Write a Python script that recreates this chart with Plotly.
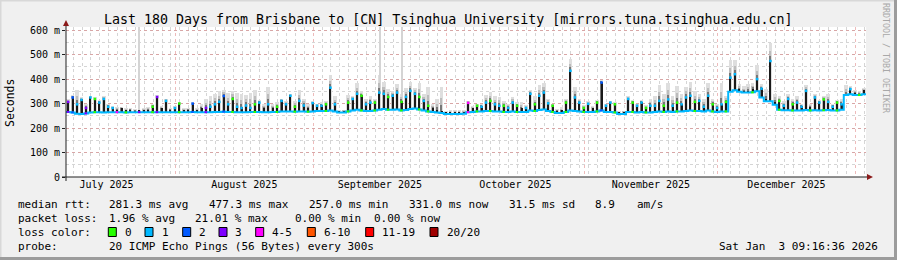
import pandas as pd
import plotly.graph_objects as go

# ---------------- data ----------------
start = pd.Timestamp("2025-07-07 09:16:36")
end = pd.Timestamp("2026-01-03 09:16:36")
day_centres = pd.date_range("2025-07-07 21:16:36", periods=180, freq="D")
day_starts = pd.date_range("2025-07-07 09:16:36", periods=180, freq="D")

median_base = [
    266, 264, 259, 258, 260, 264, 265, 265, 264, 265,
    265, 265, 265, 264, 265, 265, 265, 265, 265, 265,
    265, 265, 265, 265, 265, 265, 265, 265, 266, 265,
    265, 265, 265, 266, 266, 267, 266, 266, 265, 265,
    265, 266, 266, 266, 265, 265, 266, 266, 268, 268,
    268, 267, 268, 268, 267, 268, 270, 270, 270, 272,
    268, 264, 264, 268, 272, 275, 272, 270, 270, 272,
    275, 278, 275, 275, 276, 272, 274, 278, 280, 276,
    272, 268, 266, 264, 262, 258, 258, 258, 258, 259,
    265, 266, 268, 268, 270, 270, 268, 268, 266, 266,
    268, 266, 266, 266, 272, 270, 274, 276, 270, 266,
    262, 262, 266, 272, 270, 268, 266, 266, 266, 268,
    272, 266, 266, 264, 258, 258, 266, 266, 264, 266,
    264, 264, 266, 268, 266, 268, 266, 268, 268, 270,
    272, 270, 270, 268, 272, 268, 266, 268, 268, 348,
    355, 348, 345, 345, 346, 350, 325, 310, 310, 295,
    275, 273, 273, 272, 272, 272, 274, 272, 273, 272,
    273, 274, 272, 272, 275, 335, 338, 335, 335, 338,
]

spike_peak = [
    310, 328, 300, 318, 285, 328, 322, 307, 322, 290,
    285, 275, 281, 272, 275, 270, 275, 272, 275, 290,
    330, 280, 314, 275, 285, 303, 272, 275, 303, 272,
    280, 285, 290, 300, 310, 334, 300, 322, 290, 285,
    295, 285, 300, 307, 280, 300, 280, 290, 314, 300,
    335, 290, 314, 295, 280, 305, 294, 294, 300, 368,
    300, 268, 270, 307, 322, 343, 335, 300, 307, 307,
    348, 343, 330, 335, 348, 310, 330, 355, 343, 330,
    314, 294, 282, 275, 270, 262, 262, 262, 262, 264,
    306, 280, 294, 290, 307, 314, 300, 294, 294, 285,
    307, 294, 280, 285, 343, 300, 335, 348, 304, 294,
    270, 272, 307, 437, 328, 307, 285, 302, 280, 307,
    389, 294, 307, 300, 262, 265, 322, 307, 294, 307,
    285, 294, 294, 314, 294, 320, 294, 307, 300, 328,
    335, 310, 314, 290, 335, 300, 285, 300, 310, 409,
    423, 360, 350, 352, 360, 403, 364, 320, 477, 307,
    314, 294, 322, 300, 307, 290, 355, 287, 328, 307,
    320, 310, 290, 307, 300, 340, 362, 345, 340, 355,
]

smoke_max = [
    318, 335, 355, 325, 300, 332, 326, 315, 330, 300,
    290, 285, 288, 280, 282, 278, 275, 280, 285, 300,
    335, 290, 320, 282, 290, 308, 280, 282, 305, 280,
    300, 320, 330, 340, 350, 355, 345, 350, 345, 340,
    335, 345, 355, 315, 300, 368, 300, 305, 320, 310,
    340, 310, 355, 320, 300, 310, 300, 305, 310, 416,
    330, 272, 275, 335, 330, 384, 350, 320, 330, 320,
    416, 389, 360, 350, 380, 340, 363, 389, 365, 384,
    340, 368, 300, 320, 368, 268, 275, 275, 275, 275,
    312, 290, 300, 300, 335, 348, 330, 328, 310, 300,
    328, 305, 307, 295, 355, 330, 375, 384, 320, 300,
    278, 285, 320, 484, 368, 320, 295, 310, 290, 315,
    395, 300, 312, 305, 268, 270, 330, 315, 300, 315,
    295, 320, 330, 375, 340, 384, 330, 370, 340, 368,
    389, 350, 340, 320, 384, 320, 300, 384, 330, 477,
    477, 380, 370, 380, 385, 457, 380, 360, 546, 340,
    330, 310, 340, 320, 330, 300, 375, 300, 340, 315,
    330, 340, 300, 315, 320, 375, 370, 355, 350, 365,
]

loss_class = [
    3, 2, 1, 1, 3, 1, 0, 1, 1, 1,
    1, 4, 1, 0, 1, 1, 3, 1, 1, 0,
    3, 1, 1, 1, 1, 0, 1, 1, 2, 1,
    1, 3, 1, 1, 1, 2, 1, 0, 1, 1,
    1, 1, 0, 1, 1, 1, 1, 0, 1, 1,
    1, 0, 1, 1, 0, 1, 1, 1, 0, 1,
    1, 1, 1, 0, 1, 1, 0, 1, 1, 0,
    1, 1, 0, 1, 1, 0, 1, 1, 1, 0,
    1, 0, 1, 1, 1, 1, 1, 1, 1, 1,
    4, 1, 0, 1, 1, 0, 1, 1, 0, 1,
    1, 0, 1, 1, 1, 0, 1, 1, 1, 0,
    1, 1, 0, 1, 1, 1, 0, 1, 1, 0,
    2, 1, 1, 0, 1, 1, 1, 0, 1, 1,
    0, 1, 1, 1, 0, 1, 1, 0, 1, 1,
    1, 0, 1, 1, 1, 0, 1, 1, 0, 1,
    1, 1, 1, 1, 0, 1, 1, 1, 1, 1,
    0, 1, 1, 0, 1, 1, 1, 0, 1, 1,
    0, 1, 1, 0, 1, 1, 1, 1, 0, 1,
]

outlier_dates = ["2025-07-23 21:00", "2025-09-16 01:00", "2025-09-21 01:00"]
outlier_base = [266, 275, 272]
outlier_max = [650, 650, 650]

loss_colors = ["#26ff00", "#00b8ff", "#0059ff", "#7e00ff", "#ff00ff", "#ff5500", "#ff0000", "#a00000"]
loss_labels = ["0", "1", "2", "3", "4-5", "6-10", "11-19", "20/20"]

y_ticks = [0, 100, 200, 300, 400, 500, 600]
y_ticktext = ["0", "100 m", "200 m", "300 m", "400 m", "500 m", "600 m"]

title_text = "Last 180 Days from Brisbane to [CN] Tsinghua University [mirrors.tuna.tsinghua.edu.cn]"
legend_rows = [
    [("median rtt:", 16), ("281.3 ms avg", 107.3), ("477.3 ms max", 207.3), ("257.0 ms min", 307.3),
     ("331.0 ms now", 407.3), ("31.5 ms sd", 507.3), ("8.9", 593.3), ("am/s", 635)],
    [("packet loss:", 16), ("1.96 % avg", 107.3), ("21.01 % max", 193.3), ("0.00 % min", 293.3),
     ("0.00 % now", 372.3)],
    [("loss color:", 16)],
    [("probe:", 16), ("20 ICMP Echo Pings (56 Bytes) every 300s", 107.3)],
]
timestamp_text = "Sat Jan  3 09:16:36 2026"

# ---------------- geometry ----------------
W, H = 897, 260
L, R, T, B = 66, 866, 27, 177
PW, PH = R - L, B - T
YMAX = 600 * PH / (B - 30.2)

def px(x):
    return (x - L) / PW

def py(y):
    return (B - y) / PH

DAY_MS = 86400000
MONO = "DejaVu Sans Mono"

fig = go.Figure()

# grey smoke
fig.add_trace(go.Bar(
    x=day_centres, base=median_base,
    y=[s - b for s, b in zip(smoke_max, median_base)],
    width=DAY_MS * 0.8, marker=dict(color="#dedede", line=dict(width=0)),
    hoverinfo="skip"))
fig.add_trace(go.Bar(
    x=pd.to_datetime(outlier_dates), base=outlier_base,
    y=[m - b for m, b in zip(outlier_max, outlier_base)],
    width=DAY_MS * 0.22, marker=dict(color="#d4d4d4", line=dict(width=0)),
    hoverinfo="skip"))
fig.add_trace(go.Bar(
    x=day_centres, base=median_base,
    y=[p + 0.55 * (s - p) - b for p, s, b in zip(spike_peak, smoke_max, median_base)],
    width=DAY_MS * 0.4, marker=dict(color="#bcbcbc", line=dict(width=0)),
    hoverinfo="skip"))
fig.add_trace(go.Bar(
    x=day_centres, base=median_base,
    y=[p + 0.25 * (s - p) - b for p, s, b in zip(spike_peak, smoke_max, median_base)],
    width=DAY_MS * 0.3, marker=dict(color="#777777", line=dict(width=0)),
    hoverinfo="skip"))
fig.add_trace(go.Bar(
    x=day_centres, base=median_base,
    y=[p - b for p, b in zip(spike_peak, median_base)],
    width=DAY_MS * 0.25, marker=dict(color="#1a1a1a", line=dict(width=0)),
    hoverinfo="skip"))

# median line (dominant colour) as steps
fig.add_trace(go.Scatter(
    x=list(day_starts) + [end], y=median_base + [median_base[-1]],
    mode="lines", line=dict(color=loss_colors[1], width=2, shape="hv"),
    hoverinfo="skip"))
# other loss colours as segments
for cls in sorted(set(loss_class)):
    if cls == 1:
        continue
    xs, ys = [], []
    for d, c in enumerate(loss_class):
        if c == cls:
            xs += [day_starts[d] + pd.Timedelta(hours=4), day_starts[d] + pd.Timedelta(hours=18), None]
            ys += [median_base[d], median_base[d], None]
    fig.add_trace(go.Scatter(x=xs, y=ys, mode="lines",
                             line=dict(color=loss_colors[cls], width=2), hoverinfo="skip"))
# median dots at spike tops
mk = [d for d in range(180) if spike_peak[d] - median_base[d] >= 18]
fig.add_trace(go.Scatter(
    x=[day_centres[d] for d in mk], y=[spike_peak[d] - 3 for d in mk], mode="markers",
    marker=dict(symbol="square", size=2.5, color=[loss_colors[loss_class[d]] for d in mk], line=dict(width=0)),
    hoverinfo="skip"))

shapes = []
# outer bevel border
shapes.append(dict(type="line", xref="paper", yref="paper", x0=px(0), x1=px(W), y0=py(0.5), y1=py(0.5),
                   line=dict(color="#d8d8d8", width=2)))
shapes.append(dict(type="line", xref="paper", yref="paper", x0=px(0.5), x1=px(0.5), y0=py(0), y1=py(H),
                   line=dict(color="#d8d8d8", width=2)))
shapes.append(dict(type="line", xref="paper", yref="paper", x0=px(0), x1=px(W), y0=py(H - 1.5), y1=py(H - 1.5),
                   line=dict(color="#9c9c9c", width=3)))
shapes.append(dict(type="line", xref="paper", yref="paper", x0=px(W - 1.5), x1=px(W - 1.5), y0=py(0), y1=py(H),
                   line=dict(color="#9c9c9c", width=3)))
# axes
shapes.append(dict(type="line", xref="paper", yref="paper", x0=px(62), x1=px(869), y0=py(B), y1=py(B),
                   line=dict(color="#202020", width=1)))
shapes.append(dict(type="line", xref="paper", yref="paper", x0=px(L), x1=px(L), y0=py(181), y1=py(24),
                   line=dict(color="#202020", width=1)))
# arrows
shapes.append(dict(type="path", xref="paper", yref="paper",
                   path=f"M {px(873)} {py(B)} L {px(867)} {py(B-3)} L {px(867)} {py(B+3)} Z",
                   fillcolor="#8b1a1a", line=dict(width=0)))
shapes.append(dict(type="path", xref="paper", yref="paper",
                   path=f"M {px(L)} {py(20)} L {px(L-3)} {py(26)} L {px(L+3)} {py(26)} Z",
                   fillcolor="#8b1a1a", line=dict(width=0)))
# loss colour swatches
swatch_x = [108.3, 145, 182.7, 219, 255.7, 307.3, 365.7, 430]
label_x = [123, 160, 196.7, 233, 270, 321.7, 380, 445]
for sx, col in zip(swatch_x, loss_colors):
    shapes.append(dict(type="rect", xref="paper", yref="paper",
                       x0=px(sx), x1=px(sx + 8), y0=py(236.5), y1=py(227.5),
                       fillcolor=col, line=dict(color="#000000", width=1)))

annotations = []
annotations.append(dict(text=title_text, x=px(447.5), y=py(19), xref="paper", yref="paper",
                        showarrow=False, xanchor="center", yanchor="middle",
                        font=dict(family=MONO, size=13.3, color="#000000")))
annotations.append(dict(text="Seconds", x=px(10), y=py(103), xref="paper", yref="paper",
                        showarrow=False, xanchor="center", yanchor="middle", textangle=-90,
                        font=dict(family=MONO, size=11.5, color="#000000")))
annotations.append(dict(text="RRDTOOL / TOBI OETIKER", x=px(886), y=py(58), xref="paper", yref="paper",
                        showarrow=False, xanchor="center", yanchor="middle", textangle=90,
                        font=dict(family=MONO, size=8.3, color="#a8a8a8")))
row_y = [204, 218.5, 232, 246.5]
for row, yy in zip(legend_rows, row_y):
    for txt, xx in row:
        annotations.append(dict(text=txt, x=px(xx), y=py(yy), xref="paper", yref="paper",
                                showarrow=False, xanchor="left", yanchor="middle",
                                font=dict(family=MONO, size=11, color="#000000")))
for lx, lab in zip(label_x, loss_labels):
    annotations.append(dict(text=lab, x=px(lx), y=py(232), xref="paper", yref="paper",
                            showarrow=False, xanchor="left", yanchor="middle",
                            font=dict(family=MONO, size=11, color="#000000")))
annotations.append(dict(text=timestamp_text, x=px(880), y=py(246.5), xref="paper", yref="paper",
                        showarrow=False, xanchor="right", yanchor="middle",
                        font=dict(family=MONO, size=11, color="#000000")))

fig.update_layout(
    width=W, height=H,
    margin=dict(l=L, r=W - R, t=T, b=H - B, pad=0),
    paper_bgcolor="#f0f0f0", plot_bgcolor="#ffffff",
    barmode="overlay", bargap=0, showlegend=False,
    shapes=shapes, annotations=annotations,
    xaxis=dict(
        type="date", range=[start, end], dtick="M1", tick0="2025-07-01",
        tickformat="%B %Y", ticklabelmode="period", ticks="",
        showgrid=True, gridcolor="rgba(220,120,120,0.5)", griddash="dot", gridwidth=1,
        minor=dict(dtick=2 * DAY_MS, tick0="2025-07-09", showgrid=True,
                   gridcolor="rgba(150,150,150,0.4)", griddash="dot", gridwidth=1),
        showline=False, zeroline=False,
        tickfont=dict(family=MONO, size=10, color="#000000"),
    ),
    yaxis=dict(
        range=[0, YMAX], tickvals=y_ticks, ticktext=y_ticktext,
        ticks="outside", ticklen=3, tickcolor="#202020",
        showgrid=True, gridcolor="rgba(220,120,120,0.5)", griddash="dot", gridwidth=1,
        minor=dict(dtick=50, showgrid=True, gridcolor="rgba(150,150,150,0.4)", griddash="dot", gridwidth=1),
        showline=False, zeroline=False,
        tickfont=dict(family=MONO, size=10, color="#000000"),
    ),
)

fig.write_html("out.html")
